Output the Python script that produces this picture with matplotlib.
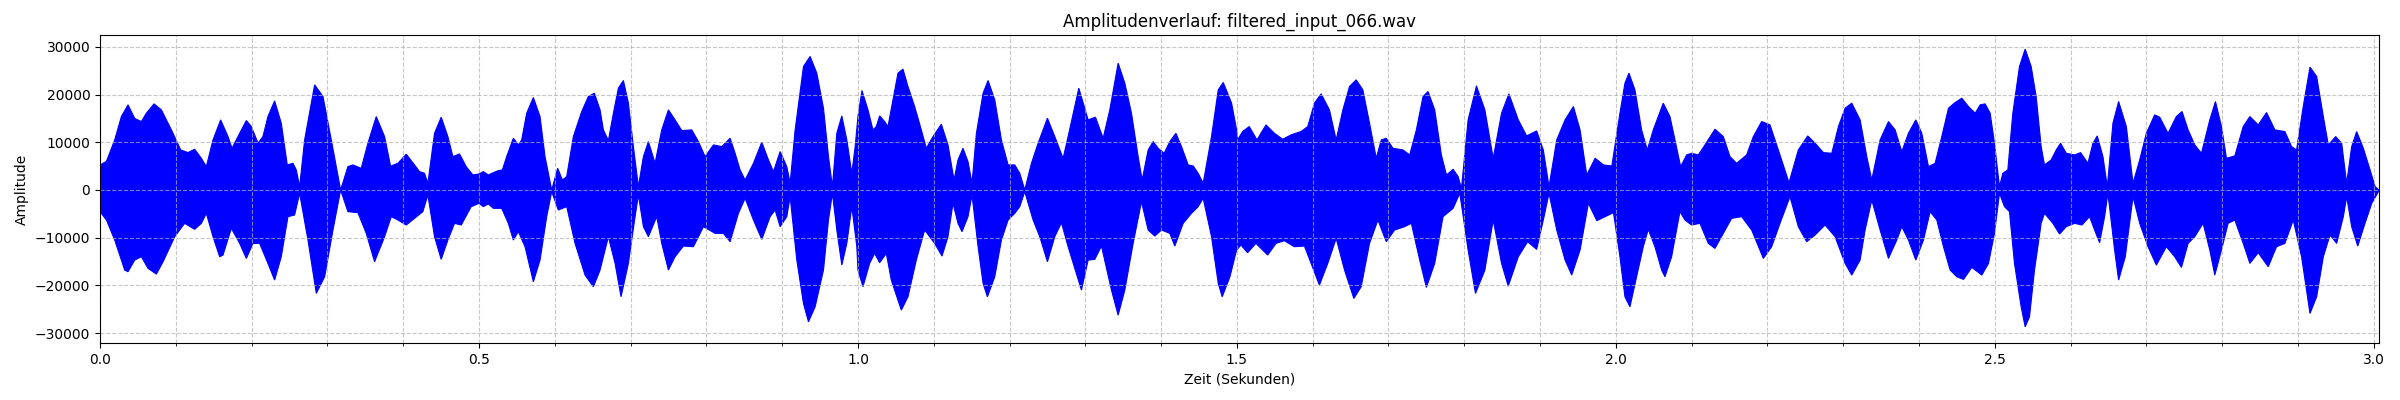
#!/usr/bin/env python3
"""
Amplitude envelope plot of filtered_input_066.wav (values read off the original figure).
"""

import matplotlib
matplotlib.use('Agg')
import matplotlib.pyplot as plt
from matplotlib.ticker import MultipleLocator

title = 'Amplitudenverlauf: filtered_input_066.wav'
duration = 3.0068  # seconds

# Upper envelope of the waveform (time in s, amplitude)
upper_t = [
    0.0, 0.0084, 0.0193, 0.0281, 0.0369, 0.0457, 0.0545, 0.0611, 0.0712, 0.0809,
    0.0941, 0.1064, 0.1160, 0.1248, 0.1336, 0.1402, 0.1490, 0.1591, 0.1688, 0.1741,
    0.1842, 0.1930, 0.1996, 0.2084, 0.2149, 0.2215, 0.2303, 0.2391, 0.2470, 0.2545,
    0.2589, 0.2633, 0.2699, 0.2831, 0.2941, 0.3051, 0.3174, 0.3270, 0.3336, 0.3446,
    0.3534, 0.3644, 0.3754, 0.3833, 0.3930, 0.4040, 0.4149, 0.4215, 0.4281, 0.4325,
    0.4413, 0.4501, 0.4589, 0.4655, 0.4743, 0.4831, 0.4919,
    0.5000, 0.5057, 0.5123, 0.5189, 0.5255, 0.5308, 0.5365, 0.5453, 0.5519, 0.5563,
    0.5629, 0.5717, 0.5805, 0.5871, 0.5959, 0.6038, 0.6100, 0.6157, 0.6245, 0.6355,
    0.6443, 0.6522, 0.6597, 0.6641, 0.6707, 0.6773, 0.6839, 0.6905, 0.6971, 0.7037,
    0.7103, 0.7169, 0.7235, 0.7323, 0.7411, 0.7499, 0.7587, 0.7675, 0.7807, 0.7895,
    0.7983, 0.8093, 0.8203, 0.8313, 0.8379, 0.8445, 0.8511, 0.8621, 0.8731, 0.8819,
    0.8885, 0.8973, 0.9061, 0.9105, 0.9171, 0.9281, 0.9369, 0.9457, 0.9545, 0.9611,
    0.9663, 0.9721, 0.9787, 0.9853, 0.9919, 0.9963,
    1.0000, 1.0053, 1.0132, 1.0198, 1.0242, 1.0286, 1.0352, 1.0396, 1.0462, 1.0528,
    1.0594, 1.0660, 1.0748, 1.0836, 1.0902, 1.0990, 1.1100, 1.1188, 1.1268, 1.1320,
    1.1386, 1.1452, 1.1505, 1.1563, 1.1651, 1.1717, 1.1805, 1.1893, 1.1981, 1.2069,
    1.2135, 1.2201, 1.2289, 1.2377, 1.2500, 1.2597, 1.2707, 1.2773, 1.2914, 1.3037,
    1.3134, 1.3235, 1.3323, 1.3433, 1.3521, 1.3609, 1.3697, 1.3750, 1.3829, 1.3895,
    1.3961, 1.4040, 1.4115, 1.4195, 1.4269, 1.4357, 1.4423, 1.4489, 1.4555, 1.4665,
    1.4754, 1.4820, 1.4930, 1.4996,
    1.5009, 1.5075, 1.5163, 1.5265, 1.5384, 1.5494, 1.5604, 1.5714, 1.5847, 1.5935,
    1.6023, 1.6111, 1.6221, 1.6310, 1.6398, 1.6486, 1.6574, 1.6662, 1.6750, 1.6839,
    1.6905, 1.6971, 1.7059, 1.7191, 1.7280, 1.7368, 1.7456, 1.7522, 1.7610, 1.7698,
    1.7765, 1.7853, 1.7919, 1.7963, 1.8051, 1.8161, 1.8272, 1.8382, 1.8492, 1.8589,
    1.8713, 1.8823, 1.8955, 1.9043, 1.9118, 1.9220, 1.9330, 1.9440, 1.9528, 1.9616,
    1.9727, 1.9837, 1.9947,
    2.0054, 2.0120, 2.0173, 2.0252, 2.0340, 2.0415, 2.0494, 2.0560, 2.0626, 2.0714,
    2.0780, 2.0855, 2.0934, 2.1000, 2.1088, 2.1176, 2.1308, 2.1418, 2.1506, 2.1594,
    2.1726, 2.1814, 2.1924, 2.2034, 2.2144, 2.2285, 2.2408, 2.2532, 2.2629, 2.2739,
    2.2849, 2.2937, 2.3025, 2.3113, 2.3223, 2.3311, 2.3377, 2.3487, 2.3597, 2.3685,
    2.3773, 2.3861, 2.3958, 2.4037, 2.4125, 2.4213, 2.4301, 2.4389, 2.4477, 2.4565,
    2.4653, 2.4741, 2.4807, 2.4873, 2.4939,
    2.4996, 2.5062, 2.5106, 2.5172, 2.5238, 2.5326, 2.5401, 2.5480, 2.5546, 2.5612,
    2.5656, 2.5744, 2.5811, 2.5868, 2.5943, 2.6053, 2.6132, 2.6229, 2.6295, 2.6352,
    2.6427, 2.6485, 2.6559, 2.6634, 2.6736, 2.6824, 2.6912, 2.7000, 2.7110, 2.7176,
    2.7286, 2.7396, 2.7471, 2.7551, 2.7639, 2.7727, 2.7837, 2.7912, 2.7991, 2.8057,
    2.8167, 2.8278, 2.8366, 2.8476, 2.8586, 2.8696, 2.8828, 2.8916, 2.8982, 2.9070,
    2.9159, 2.9247, 2.9335, 2.9401, 2.9498, 2.9577, 2.9643, 2.9709, 2.9775, 2.9863,
    2.9952, 3.0018, 3.0062,
]
upper_amp = [
    5250, 6000, 10500, 15400, 17850, 15000, 14350, 16100, 18060, 16800,
    12600, 8400, 7840, 8540, 6650, 4900, 10500, 14700, 11200, 8750,
    11900, 14560, 13300, 9800, 11200, 15400, 18690, 14000, 5250, 5600,
    4200, 700, 10500, 22050, 19600, 10500, 0, 4900, 5250, 4550,
    9800, 15400, 11200, 5000, 5600, 7500, 5250, 3850, 3500, 1400,
    11900, 15260, 11200, 7000, 7560, 4900, 3150,
    3360, 3850, 3150, 3640, 4060, 4200, 7000, 10850, 9450, 10500,
    16100, 19390, 15400, 7000, 0, 4550, 2100, 2800, 11200, 16450,
    19600, 20300, 16800, 12600, 10360, 16100, 21350, 22960, 18200, 9100,
    700, 7000, 10150, 5600, 12600, 16800, 14700, 12460, 12600, 10150,
    7000, 9450, 9100, 10850, 7700, 4200, 2100, 5600, 10010, 6300,
    3850, 8050, 4900, 1400, 12600, 25900, 28000, 24500, 17150, 7000,
    700, 11900, 15540, 10500, 3500, 9100,
    15400, 20860, 16800, 12600, 13300, 15540, 14350, 13300, 18900, 24500,
    25340, 21700, 17500, 12600, 8750, 11200, 13790, 9450, 2100, 6300,
    8750, 5950, 1400, 11900, 20300, 22960, 18900, 10500, 5250, 5250,
    3500, 0, 5600, 9800, 15050, 11200, 6650, 11200, 21350, 14700,
    15260, 10850, 16800, 26600, 22400, 16100, 7000, 2100, 8400, 10150,
    8750, 7700, 10150, 11900, 9100, 5250, 5040, 3500, 1400, 11200,
    21000, 22540, 18200, 12600,
    10500, 12250, 13300, 10500, 13650, 11900, 10640, 11550, 12250, 13300,
    18200, 20160, 16800, 10500, 16800, 21700, 23100, 21000, 14000, 6650,
    10500, 10850, 8750, 8400, 7350, 12600, 19600, 20650, 16800, 7350,
    3150, 4340, 2800, 350, 14700, 21840, 16800, 6650, 16100, 20160,
    14700, 11340, 12390, 8400, 700, 10500, 14700, 17500, 12600, 3150,
    6650, 5250, 5040,
    16100, 22400, 24500, 21000, 12600, 8400, 12600, 15400, 18200, 15400,
    10500, 4900, 7350, 7700, 7350, 9450, 12740, 11200, 7000, 5600,
    7350, 11200, 14350, 13650, 8400, 1540, 8400, 11340, 9800, 7840,
    7700, 13300, 17150, 18200, 14700, 7000, 2100, 10500, 14350, 12600,
    8050, 11900, 14700, 11900, 4900, 5600, 11200, 17150, 18340, 19250,
    17500, 16100, 17850, 18060, 16100,
    9800, 700, 3500, 4200, 16100, 25900, 29540, 25900, 19600, 9100,
    5250, 6300, 8400, 9800, 7700, 7350, 7840, 5600, 9800, 11340,
    7000, 700, 14000, 18550, 13300, 1400, 6300, 11900, 15750, 15260,
    11900, 15400, 16450, 12600, 9450, 7700, 14700, 18550, 13300, 6650,
    7140, 13300, 15400, 13650, 16240, 12600, 12250, 9100, 8400, 17500,
    25760, 23800, 15400, 9450, 11200, 9800, 1400, 9100, 12250, 8750,
    4200, 700, 100,
]

# Lower envelope of the waveform (time in s, magnitude below zero)
lower_t = [
    0.0, 0.0084, 0.0193, 0.0325, 0.0369, 0.0457, 0.0545, 0.0633, 0.0743, 0.0831,
    0.0985, 0.1116, 0.1248, 0.1336, 0.1402, 0.1490, 0.1578, 0.1622, 0.1732, 0.1842,
    0.1930, 0.2018, 0.2105, 0.2215, 0.2303, 0.2391, 0.2479, 0.2567, 0.2633, 0.2743,
    0.2853, 0.2963, 0.3073, 0.3174, 0.3270, 0.3402, 0.3512, 0.3622, 0.3754, 0.3842,
    0.3930, 0.4040, 0.4149, 0.4259, 0.4325, 0.4413, 0.4501, 0.4589, 0.4677, 0.4765,
    0.4897,
    0.5000, 0.5057, 0.5123, 0.5189, 0.5299, 0.5387, 0.5453, 0.5519, 0.5607, 0.5717,
    0.5805, 0.5893, 0.5959, 0.6047, 0.6157, 0.6267, 0.6399, 0.6509, 0.6597, 0.6707,
    0.6795, 0.6874, 0.6971, 0.7059, 0.7103, 0.7169, 0.7235, 0.7345, 0.7411, 0.7499,
    0.7587, 0.7697, 0.7829, 0.7961, 0.8115, 0.8225, 0.8313, 0.8423, 0.8511, 0.8621,
    0.8731, 0.8841, 0.8907, 0.8973, 0.9061, 0.9105, 0.9193, 0.9281, 0.9347, 0.9435,
    0.9545, 0.9611, 0.9663, 0.9721, 0.9787, 0.9853, 0.9919, 0.9985,
    1.0000, 1.0066, 1.0154, 1.0220, 1.0286, 1.0374, 1.0440, 1.0572, 1.0660, 1.0770,
    1.0880, 1.1012, 1.1109, 1.1188, 1.1254, 1.1320, 1.1373, 1.1452, 1.1505, 1.1585,
    1.1651, 1.1708, 1.1805, 1.1893, 1.1981, 1.2069, 1.2135, 1.2201, 1.2311, 1.2399,
    1.2500, 1.2597, 1.2685, 1.2773, 1.2949, 1.3037, 1.3125, 1.3213, 1.3345, 1.3433,
    1.3521, 1.3631, 1.3741, 1.3829, 1.3917, 1.4005, 1.4115, 1.4181, 1.4291, 1.4401,
    1.4489, 1.4555, 1.4665, 1.4754, 1.4806, 1.4908, 1.4996,
    1.5053, 1.5141, 1.5251, 1.5406, 1.5516, 1.5626, 1.5758, 1.5891, 1.5979, 1.6089,
    1.6199, 1.6310, 1.6420, 1.6543, 1.6640, 1.6750, 1.6861, 1.6971, 1.7081, 1.7213,
    1.7302, 1.7412, 1.7500, 1.7610, 1.7720, 1.7853, 1.7941, 1.8051, 1.8148, 1.8272,
    1.8382, 1.8492, 1.8580, 1.8713, 1.8836, 1.8955, 1.9043, 1.9118, 1.9220, 1.9330,
    1.9418, 1.9528, 1.9638, 1.9749, 1.9859, 1.9969,
    2.0054, 2.0120, 2.0186, 2.0274, 2.0362, 2.0428, 2.0516, 2.0604, 2.0648, 2.0736,
    2.0846, 2.0912, 2.1000, 2.1110, 2.1220, 2.1308, 2.1418, 2.1528, 2.1660, 2.1792,
    2.1946, 2.2056, 2.2166, 2.2298, 2.2408, 2.2518, 2.2629, 2.2761, 2.2893, 2.3025,
    2.3113, 2.3223, 2.3289, 2.3377, 2.3487, 2.3597, 2.3707, 2.3773, 2.3861, 2.3958,
    2.4059, 2.4147, 2.4235, 2.4323, 2.4411, 2.4499, 2.4587, 2.4697, 2.4829, 2.4917,
    2.4996, 2.5062, 2.5128, 2.5194, 2.5260, 2.5348, 2.5401, 2.5458, 2.5524, 2.5612,
    2.5656, 2.5767, 2.5855, 2.5943, 2.6053, 2.6150, 2.6251, 2.6317, 2.6383, 2.6449,
    2.6493, 2.6581, 2.6634, 2.6722, 2.6824, 2.6912, 2.7022, 2.7132, 2.7264, 2.7374,
    2.7463, 2.7551, 2.7639, 2.7749, 2.7837, 2.7903, 2.7991, 2.8079, 2.8167, 2.8278,
    2.8366, 2.8476, 2.8608, 2.8718, 2.8828, 2.8938, 2.9048, 2.9159, 2.9247, 2.9335,
    2.9423, 2.9511, 2.9599, 2.9643, 2.9709, 2.9789, 2.9885, 2.9974, 3.0062,
]
lower_amp = [
    4550, 6300, 10500, 16800, 17150, 14700, 14000, 16450, 17640, 15050,
    9800, 7000, 8260, 7000, 4900, 9800, 14000, 13650, 8050, 11200,
    14350, 11200, 11200, 15400, 18900, 14000, 5600, 5250, 700, 10500,
    21700, 18200, 8400, 0, 4550, 4760, 9100, 15050, 9800, 5600,
    6300, 7350, 5950, 4550, 1050, 9800, 14560, 10500, 7000, 7350,
    3500,
    2800, 3500, 2940, 3850, 3850, 7000, 10500, 8750, 11900, 19250,
    14700, 5600, 350, 4200, 3500, 11200, 17850, 20300, 16800, 9800,
    15400, 22400, 15400, 5600, 1050, 7700, 9800, 5600, 11200, 16800,
    14000, 11760, 11900, 7700, 9100, 9100, 10850, 4900, 1750, 6300,
    10360, 5600, 4200, 7700, 5600, 1400, 14700, 23800, 27650, 24500,
    16800, 6300, 700, 8400, 15750, 11200, 3500, 11900,
    16800, 20300, 15400, 13300, 15260, 13300, 18900, 25200, 22400, 14700,
    8400, 11200, 13860, 9800, 2800, 7000, 8750, 5600, 1050, 11900,
    19600, 22400, 18200, 10500, 6300, 4900, 3500, 350, 6300, 9800,
    15050, 9800, 6860, 11900, 21000, 14700, 14560, 11760, 21000, 26250,
    21000, 11200, 2450, 8400, 9660, 8400, 9100, 11760, 7000, 4900,
    3500, 1750, 9800, 19600, 22400, 18200, 12600,
    11550, 13160, 11200, 13650, 11200, 10640, 11900, 11760, 15400, 19950,
    15400, 10150, 16800, 22750, 20300, 11200, 6300, 10850, 8400, 7700,
    7000, 14700, 20440, 15400, 5600, 3850, 700, 12600, 21700, 16800,
    6300, 15400, 20160, 14000, 10850, 12460, 6300, 700, 8400, 14700,
    17850, 12600, 2800, 6440, 5600, 4760,
    14000, 22400, 24500, 18200, 11900, 8260, 11900, 16800, 18200, 14000,
    4550, 6300, 7350, 7000, 11200, 12250, 9100, 5950, 5600, 8400,
    14350, 11900, 7000, 1400, 7700, 10850, 9450, 7350, 9800, 15400,
    17850, 14700, 8400, 2100, 8400, 14350, 10500, 7700, 10500, 14700,
    10500, 4550, 6300, 11900, 16800, 18200, 18760, 16240, 17850, 15400,
    9100, 700, 3500, 4550, 15400, 24500, 28700, 26600, 16800, 7000,
    4900, 7000, 9240, 7700, 7000, 7350, 5600, 8400, 11060, 5600,
    700, 12600, 18900, 14000, 1400, 7000, 11900, 15750, 11900, 14000,
    16240, 11200, 9800, 7000, 12600, 17850, 12600, 7000, 6300, 11200,
    15400, 13160, 16100, 11900, 11200, 6300, 14000, 25900, 22400, 14000,
    9450, 11200, 5600, 1400, 7700, 11760, 7000, 2800, 350,
]

x_ticks = [0.0, 0.5, 1.0, 1.5, 2.0, 2.5, 3.0]
y_ticks = [-30000, -20000, -10000, 0, 10000, 20000, 30000]

fig, ax = plt.subplots(figsize=(24, 4), dpi=100)

# Closed outline: upper envelope forward, lower envelope backward
poly_t = upper_t + lower_t[::-1]
poly_y = upper_amp + [-v for v in lower_amp[::-1]]
ax.fill(poly_t, poly_y, color='blue', linewidth=0.8, edgecolor='blue')

ax.set_title(title)
ax.set_xlabel('Zeit (Sekunden)')
ax.set_ylabel('Amplitude')
ax.set_xlim(0, duration)
ax.set_ylim(-32050, 32500)
ax.set_xticks(x_ticks)
ax.set_yticks(y_ticks)
ax.xaxis.set_minor_locator(MultipleLocator(0.1))
ax.grid(True, which='both', linestyle='--', alpha=0.7)

fig.subplots_adjust(left=0.0417, right=0.9912, top=0.9125, bottom=0.143)
plt.savefig('out.png', dpi=100)
plt.close()
